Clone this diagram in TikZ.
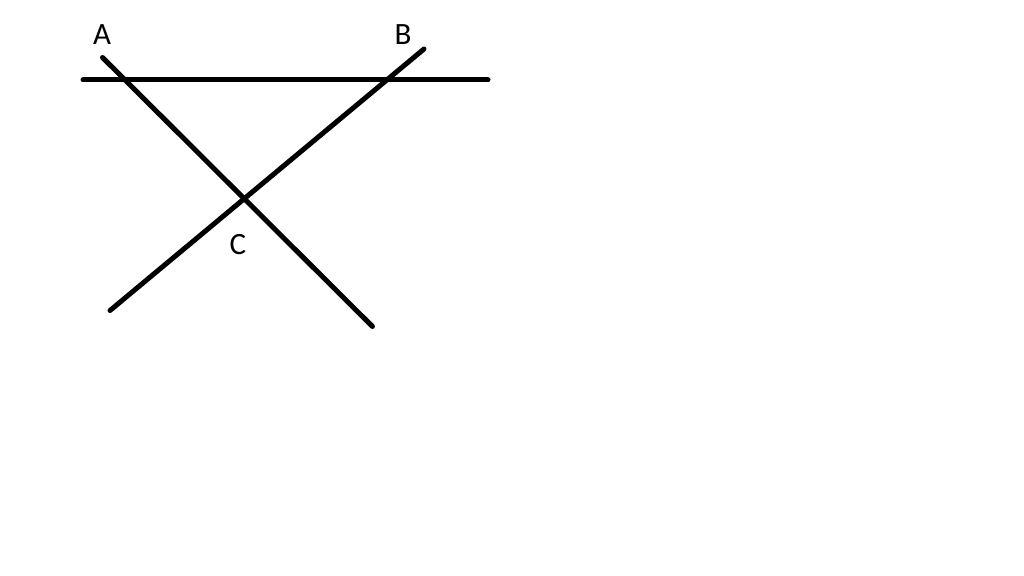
\documentclass[tikz,border=0pt]{standalone}
\usepackage{fontspec}
\setmainfont{Carlito}
\begin{document}
\begin{tikzpicture}[x=1pt,y=-1pt,
  ln/.style={line width=5pt,line cap=round,black},
  lbl/.style={font=\fontsize{31}{33}\selectfont,inner sep=0pt}]
\useasboundingbox[fill=white] (0,0) rectangle (1024,575);
\coordinate (h1) at (83,80);
\coordinate (h2) at (488,80);
\coordinate (p1) at (102.5,57.5);
\coordinate (p2) at (372.5,326.5);
\coordinate (q1) at (424,49);
\coordinate (q2) at (110,310.5);
\draw[ln] (h1) -- (h2);
\draw[ln] (p1) -- (p2);
\draw[ln] (q1) -- (q2);
\node[lbl] (A) at (102,35) {A};
\node[lbl] (B) at (403,35) {B};
\node[lbl] (C) at (238,245) {C};
\end{tikzpicture}
\end{document}
